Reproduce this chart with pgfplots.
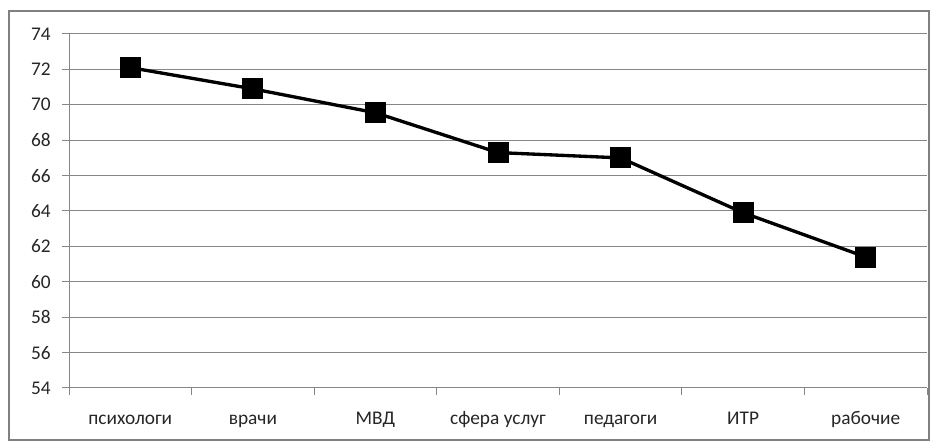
\documentclass[border=0pt]{standalone}
\usepackage{pgfplots}
\pgfplotsset{compat=1.18}
\usepackage{fontspec}
\setmainfont{Carlito}
\definecolor{gridgray}{RGB}{134,134,134}
\definecolor{framegray}{RGB}{128,128,128}
\begin{document}
\begin{tikzpicture}
% 1 px of the reference = 0.75pt
\path[use as bounding box, fill=white] (0pt,0pt) rectangle (702pt,336pt);
\draw[framegray, line width=1.5pt] (6.75pt,6pt) rectangle (696.75pt,327.75pt);
\begin{axis}[
    at={(51.75pt,45pt)}, anchor=south west,
    scale only axis, width=643.5pt, height=265.5pt,
    xmin=0, xmax=7, ymin=54, ymax=74,
    ytick={54,56,...,74},
    xtick={0,...,7}, xticklabels={},
    extra x ticks={0.5,1.5,...,6.5},
    extra x tick labels={психологи, врачи, МВД, сфера услуг, педагоги, ИТР, рабочие},
    extra x tick style={major tick length=0pt,
        tick label style={text height=1.5ex, text depth=0.3ex, yshift=-17pt}},
    yticklabel style={xshift=-5pt},
    axis lines*=left,
    axis line style={gridgray, line width=0.75pt},
    ymajorgrids, grid style={gridgray, line width=0.75pt},
    tick style={gridgray, line width=0.75pt},
    tick align=outside, major tick length=5.25pt,
    tick label style={font=\fontsize{14.5}{17}\selectfont, text=black!85},
    /pgf/number format/assume math mode=true,
    clip=false,
]
\addplot[black, line width=2.5pt, mark=square*, mark size=7.5pt,
    mark options={solid, fill=black, line width=0pt}]
coordinates {
    (0.5,72.1) (1.5,70.9) (2.5,69.55) (3.5,67.3) (4.5,67.0) (5.5,63.9) (6.5,61.4)
};
\end{axis}
\end{tikzpicture}
\end{document}
